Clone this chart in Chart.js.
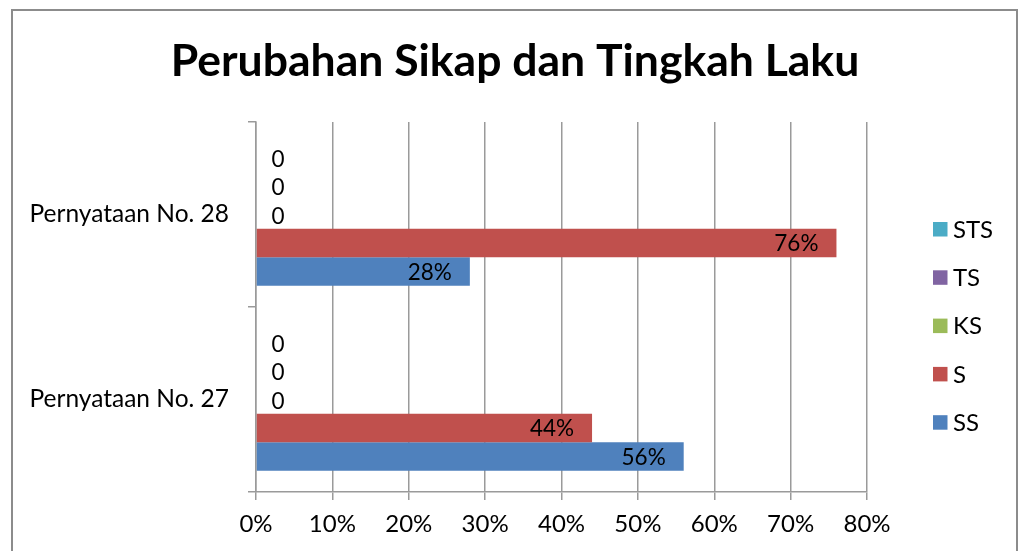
<!DOCTYPE html>
<html><head><meta charset="utf-8">
<script src="https://cdn.jsdelivr.net/npm/chart.js@4.4.1/dist/chart.umd.min.js"></script>
<style>html,body{margin:0;padding:0;background:#fff;overflow:hidden}#wrap{width:1025px;height:551px;position:relative}</style>
</head><body><div id="wrap"><canvas id="c" width="1025" height="551"></canvas></div>
<script>
const TITLE = 'Perubahan Sikap dan Tingkah Laku';
const categories = ['Pernyataan No. 28', 'Pernyataan No. 27'];
const seriesNames = ['STS', 'TS', 'KS', 'S', 'SS'];
const seriesColors = ['#4BACC6', '#8064A2', '#9BBB59', '#C0504D', '#4F81BD'];
const STS = [0, 0];
const TS = [0, 0];
const KS = [0, 0];
const S = [76, 44];
const SS = [28, 56];
const seriesValues = [STS, TS, KS, S, SS];
const xMax = 80;
const xStep = 10;

const FONT = 'Lato';
const GRID = '#9a9a9a';

const decor = {
  id: 'decor',
  beforeDraw(chart) {
    const ctx = chart.ctx;
    ctx.save();
    ctx.fillStyle = '#fff';
    ctx.fillRect(0, 0, chart.width, chart.height);
    ctx.strokeStyle = '#8c8c8c';
    ctx.lineWidth = 2;
    ctx.strokeRect(12, 10, 1005, 600);
    ctx.restore();
  },
  afterDatasetsDraw(chart) {
    const ctx = chart.ctx;
    ctx.save();
    ctx.font = '22.5px ' + FONT;
    ctx.fillStyle = '#000';
    ctx.textBaseline = 'middle';
    chart.data.datasets.forEach((ds, i) => {
      const meta = chart.getDatasetMeta(i);
      meta.data.forEach((bar, j) => {
        const v = ds.data[j];
        if (v === 0) {
          ctx.textAlign = 'center';
          ctx.fillText('0', bar.base + 22, bar.y + 2);
        } else {
          ctx.textAlign = 'right';
          ctx.fillText(v + '%', bar.x - 18, bar.y + 1);
        }
      });
    });
    ctx.font = 'bold 44.5px ' + FONT;
    ctx.textAlign = 'center';
    ctx.textBaseline = 'alphabetic';
    ctx.fillText(TITLE, 515, 76);
    ctx.font = '24px ' + FONT;
    ctx.textAlign = 'left';
    ctx.textBaseline = 'middle';
    chart.data.datasets.forEach((ds, i) => {
      const cy = 229 + i * 48.3;
      ctx.fillStyle = ds.backgroundColor;
      ctx.fillRect(933, cy - 7, 14.5, 14.5);
      ctx.fillStyle = '#000';
      ctx.fillText(ds.label, 953, cy + 1);
    });
    ctx.restore();
  }
};

new Chart(document.getElementById('c'), {
  type: 'bar',
  data: {
    labels: categories,
    datasets: seriesNames.map((n, i) => ({
      label: n,
      data: seriesValues[i],
      backgroundColor: seriesColors[i],
      borderWidth: 0,
      barPercentage: 1,
      categoryPercentage: 0.77
    }))
  },
  options: {
    indexAxis: 'y',
    responsive: false,
    animation: false,
    devicePixelRatio: 1,
    layout: { padding: { top: 122, right: 158, left: 0, bottom: 0 } },
    plugins: { legend: { display: false }, title: { display: false }, tooltip: { enabled: false } },
    scales: {
      x: {
        type: 'linear', min: 0, max: xMax,
        ticks: { stepSize: xStep, callback: v => v + '%', font: { family: FONT, size: 24 }, color: '#000', padding: 10, maxRotation: 0 },
        grid: { color: GRID, lineWidth: 1.5, tickLength: 8 },
        border: { color: GRID, width: 1.5 },
        afterFit: s => { s.height = 59; }
      },
      y: {
        type: 'category', offset: true,
        ticks: { font: { family: FONT, size: 24.5 }, color: '#000', padding: 19 },
        grid: { offset: true, drawOnChartArea: false, tickLength: 8, color: GRID, lineWidth: 1.5 },
        border: { color: GRID, width: 1.5 },
        afterFit: s => { s.width = 256; }
      }
    }
  },
  plugins: [decor]
});
</script>
</body></html>
